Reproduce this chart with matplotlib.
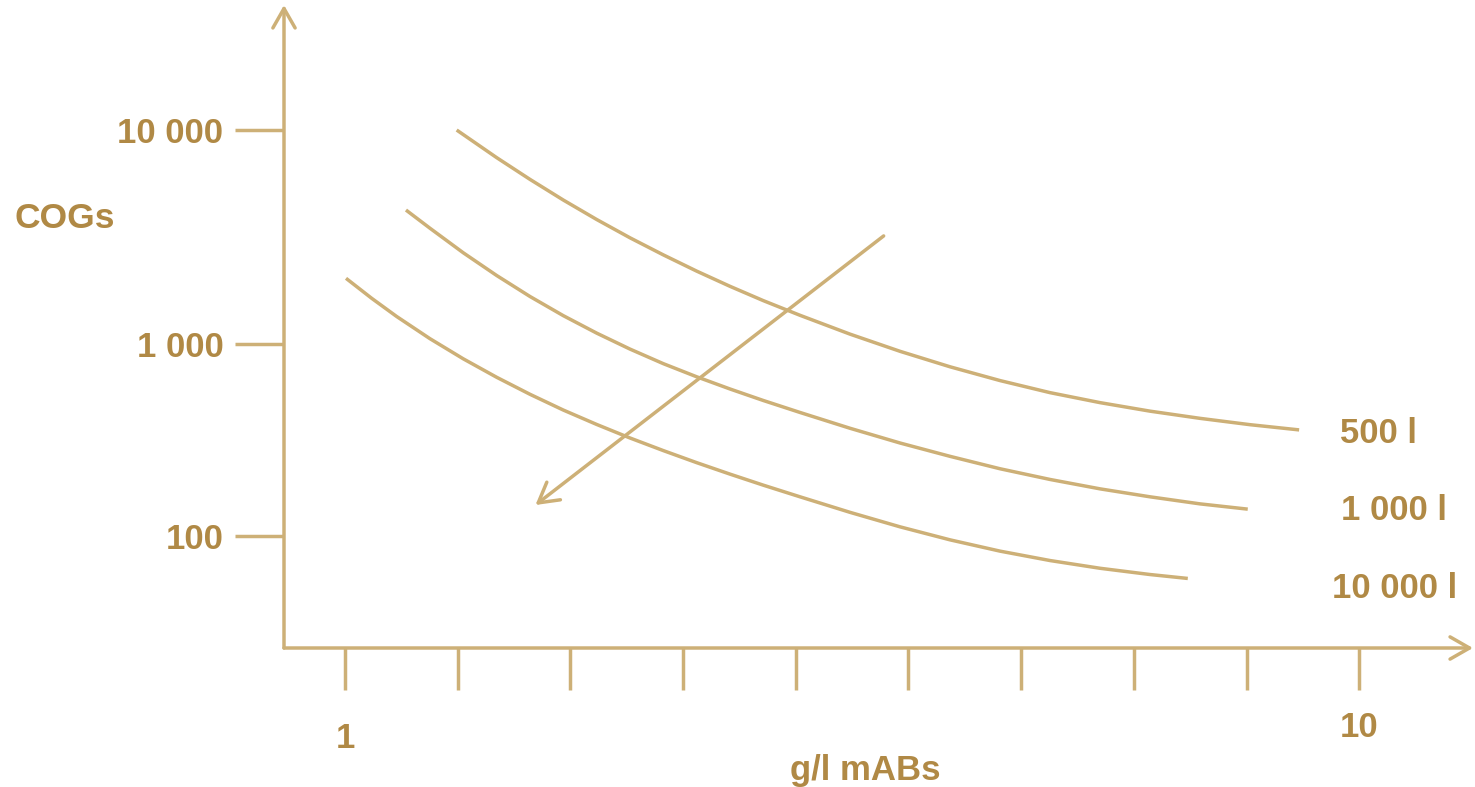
import numpy as np
import matplotlib
matplotlib.use('Agg')
import matplotlib.pyplot as plt
from matplotlib.transforms import ScaledTranslation

plt.rcParams['font.family'] = ['Liberation Sans', 'DejaVu Sans']
plt.rcParams['font.weight'] = 'bold'

LINE = '#cdb077'
TEXT = '#b08945'

# values (x in g/l, y in COGs)
gl_500 = [1.991, 2.346, 2.642, 2.937, 3.234, 3.529, 3.825, 4.121, 4.417, 4.712, 5.038,
          5.482, 5.926, 6.369, 6.813, 7.257, 7.701, 8.144, 8.588, 9.032, 9.467]
cogs_500 = [10000, 7430, 5878, 4709, 3817, 3136, 2609, 2191, 1860, 1595, 1362,
            1112, 916, 761, 645, 558, 495, 447, 410, 380, 357]

gl_1000 = [1.541, 1.754, 2.050, 2.346, 2.642, 2.937, 3.234, 3.529, 3.825, 4.121, 4.417,
           4.712, 5.038, 5.482, 5.926, 6.369, 6.813, 7.257, 7.701, 8.144, 8.588, 9.011]
cogs_1000 = [4228, 3476, 2668, 2090, 1667, 1357, 1124, 941, 790, 675, 583,
             508, 440, 364, 305, 260, 224, 197, 176, 160, 147, 138]

gl_10000 = [1.009, 1.237, 1.459, 1.754, 2.050, 2.346, 2.642, 2.937, 3.234, 3.529, 3.825, 4.121,
            4.417, 4.712, 5.038, 5.482, 5.926, 6.369, 6.813, 7.257, 7.701, 8.144, 8.479]
cogs_10000 = [2028, 1635, 1344, 1059, 837, 671, 547, 453, 381, 324, 278.5, 241,
              210, 184, 160, 132.8, 111.6, 95.5, 83.4, 74.5, 67.9, 63.0, 60.1]

# trend arrow (start, end)
arrow_gl = [5.78, 2.69]
arrow_cogs = [3200, 145]

x_ticks = [1, 2, 3, 4, 5, 6, 7, 8, 9, 10]
x_ticklabels = ['1', '', '', '', '', '', '', '', '', '10']
y_ticks = [100, 1000, 10000]
y_ticklabels = ['100', '1 000', '10 000']


# the hand drawn log axis has uneven decades, so map them piecewise
def fwd(y):
    t = np.log10(np.maximum(y, 1e-9))
    return np.where(t < 3, (t - 2) * 192, 192 + (t - 3) * 214)


def inv(p):
    t = np.where(p < 192, 2 + p / 192, 3 + (p - 192) / 214)
    return 10 ** t


fig = plt.figure(figsize=(14.75, 7.87), dpi=100)
ax = fig.add_axes([284 / 1475, 1 - 648 / 787, (1473 - 284) / 1475, (648 - 5) / 787])
ax.set_yscale('function', functions=(fwd, inv))
ax.set_xlim(0.4586, 11.01)
ax.set_ylim(26.1, 38400)

for xs, ys in [(gl_500, cogs_500), (gl_1000, cogs_1000), (gl_10000, cogs_10000)]:
    ax.plot(xs, ys, color=LINE, lw=2.5, solid_capstyle='butt', solid_joinstyle='round')

ax.annotate('', xy=(arrow_gl[1], arrow_cogs[1]), xytext=(arrow_gl[0], arrow_cogs[0]),
            arrowprops=dict(arrowstyle='->,head_length=0.7,head_width=0.4', lw=2.5,
                            color=LINE, shrinkA=0, shrinkB=0, mutation_scale=20))

# axis lines with open arrow heads
for end in [(0, 1), (1, 0)]:
    ax.annotate('', xy=end, xytext=(0, 0), xycoords='axes fraction',
                arrowprops=dict(arrowstyle='->,head_length=0.7,head_width=0.4', lw=2.5,
                                color=LINE, shrinkA=0, shrinkB=0, mutation_scale=20),
                annotation_clip=False)

for s in ax.spines.values():
    s.set_visible(False)

ax.set_xticks(x_ticks, x_ticklabels)
ax.set_yticks(y_ticks, y_ticklabels)
ax.tick_params(axis='x', length=30, width=2.5, color=LINE, pad=15.5,
               labelsize=25, labelcolor=TEXT)
ax.tick_params(axis='y', length=35, width=2.5, color=LINE, pad=8.6,
               labelsize=25, labelcolor=TEXT)
ax.minorticks_off()

# the "1" sits a bit lower than the "10"
lab = ax.xaxis.get_major_ticks()[0].label1
lab.set_transform(lab.get_transform() + ScaledTranslation(0, -0.11, fig.dpi_scale_trans))

fig.text(15 / 1475, 1 - 218 / 787, 'COGs', fontsize=25.5, color=TEXT, va='center', ha='left')
fig.text(865 / 1475, 1 - 780 / 787, 'g/l mABs', fontsize=25, color=TEXT, va='baseline', ha='center')

fig.text(1340 / 1475, 1 - 443 / 787, '500 l', fontsize=25, color=TEXT, va='baseline')
fig.text(1341 / 1475, 1 - 520 / 787, '1 000 l', fontsize=25, color=TEXT, va='baseline')
fig.text(1332 / 1475, 1 - 598 / 787, '10 000 l', fontsize=25, color=TEXT, va='baseline')

fig.savefig('out.png', dpi=100)
